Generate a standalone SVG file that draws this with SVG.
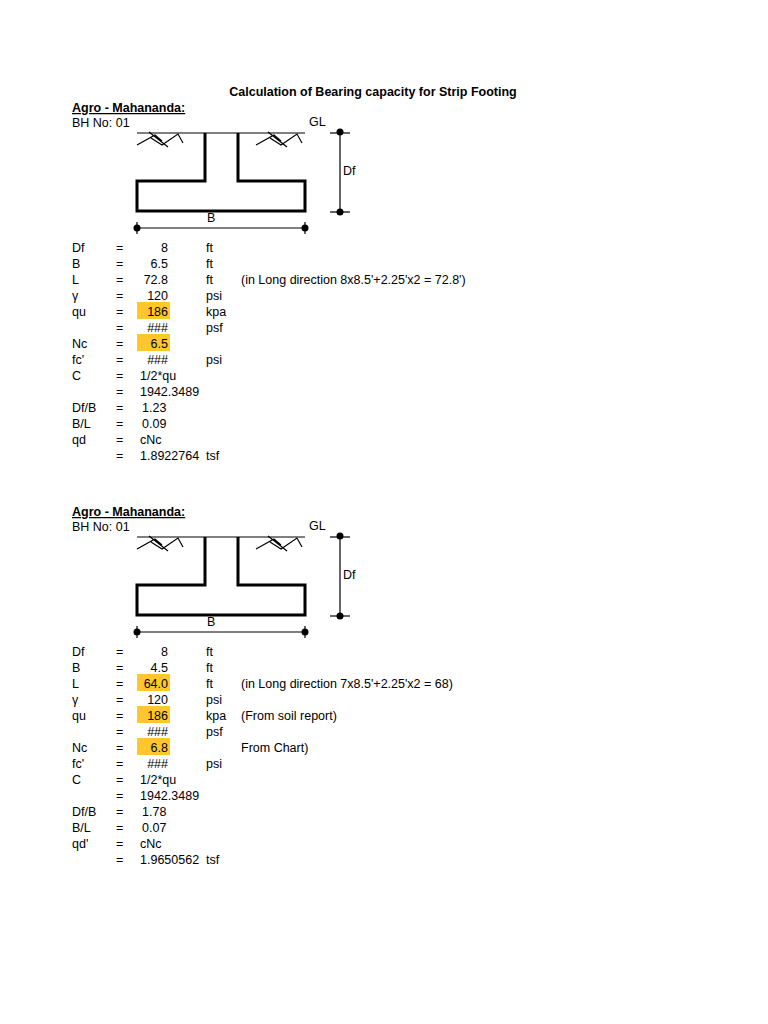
<svg xmlns="http://www.w3.org/2000/svg" width="768" height="1024" viewBox="0 0 768 1024">
<style>
text{font-family:"Liberation Sans",Arial,sans-serif;font-size:12.5px;fill:#000}
.b{font-weight:bold}
.r{text-anchor:end}
.thick{stroke:#000;stroke-width:3;fill:none}
.thin{stroke:#000;stroke-width:1.2;fill:none}
.hl{fill:#ffc72c}
</style>
<rect width="768" height="1024" fill="#fff"/>
<text x="373" y="96" class="b" text-anchor="middle">Calculation of Bearing capacity for Strip Footing</text>
<defs>
<g id="fig">
<line x1="137" y1="133" x2="305" y2="133" class="thin"/>
<path d="M137 145 L155 135 L162 141 M151 138 L162 145 L178 134 L183 143 M149 132 L168 147" class="thin"/>
<path d="M256 145 L274 135 L281 141 M270 138 L281 145 L297 134 L302 143 M268 132 L287 147" class="thin"/>
<path d="M205 133 V181 H137 V211 H305 V181 H238 V133" class="thick"/>
<line x1="340" y1="131" x2="340" y2="212" class="thin"/>
<line x1="330" y1="133" x2="350" y2="133" class="thin"/>
<line x1="330" y1="212" x2="350" y2="212" class="thin"/>
<circle cx="340" cy="132" r="3.5"/><circle cx="340" cy="212" r="3.5"/>
<line x1="137" y1="228" x2="305" y2="228" class="thin"/>
<line x1="137" y1="222" x2="137" y2="234" class="thin"/>
<line x1="305" y1="222" x2="305" y2="234" class="thin"/>
<circle cx="137" cy="228" r="3.5"/><circle cx="305" cy="228" r="3.5"/>
<text x="207" y="222">B</text>
<text x="309" y="126">GL</text>
<text x="343" y="175">Df</text>
<text x="72" y="112" class="b" text-decoration="underline">Agro - Mahananda:</text>
<text x="72" y="127">BH No: 01</text>
</g>
</defs>
<g id="section1">
<use href="#fig"/>
<rect class="hl" x="137" y="302" width="33" height="17"/>
<rect class="hl" x="137" y="334" width="33" height="17"/>
<g>
<text x="72" y="252">Df</text><text x="116" y="252">=</text><text x="168" y="252" class="r">8</text><text x="206" y="252">ft</text>
<text x="72" y="268">B</text><text x="116" y="268">=</text><text x="168" y="268" class="r">6.5</text><text x="206" y="268">ft</text>
<text x="72" y="284">L</text><text x="116" y="284">=</text><text x="168" y="284" class="r">72.8</text><text x="206" y="284">ft</text><text x="241" y="284">(in Long direction 8x8.5'+2.25'x2 = 72.8')</text>
<text x="72" y="300">γ</text><text x="116" y="300">=</text><text x="168" y="300" class="r">120</text><text x="206" y="300">psi</text>
<text x="72" y="316">qu</text><text x="116" y="316">=</text><text x="168" y="316" class="r">186</text><text x="206" y="316">kpa</text>
<text x="116" y="332">=</text><text x="168" y="332" class="r">###</text><text x="206" y="332">psf</text>
<text x="72" y="348">Nc</text><text x="116" y="348">=</text><text x="168" y="348" class="r">6.5</text>
<text x="72" y="364">fc'</text><text x="116" y="364">=</text><text x="168" y="364" class="r">###</text><text x="206" y="364">psi</text>
<text x="72" y="380">C</text><text x="116" y="380">=</text><text x="140" y="380">1/2*qu</text>
<text x="116" y="396">=</text><text x="140" y="396">1942.3489</text>
<text x="72" y="412">Df/B</text><text x="116" y="412">=</text><text x="142" y="412">1.23</text>
<text x="72" y="428">B/L</text><text x="116" y="428">=</text><text x="142" y="428">0.09</text>
<text x="72" y="444">qd</text><text x="116" y="444">=</text><text x="140" y="444">cNc</text>
<text x="116" y="460">=</text><text x="140" y="460">1.8922764</text><text x="206" y="460">tsf</text>
</g>
</g>
<g id="section2" transform="translate(0,404)">
<use href="#fig"/>
<rect class="hl" x="137" y="270" width="33" height="17"/>
<rect class="hl" x="137" y="302" width="33" height="17"/>
<rect class="hl" x="137" y="334" width="33" height="17"/>
<text x="72" y="252">Df</text><text x="116" y="252">=</text><text x="168" y="252" class="r">8</text><text x="206" y="252">ft</text>
<text x="72" y="268">B</text><text x="116" y="268">=</text><text x="168" y="268" class="r">4.5</text><text x="206" y="268">ft</text>
<text x="72" y="284">L</text><text x="116" y="284">=</text><text x="168" y="284" class="r">64.0</text><text x="206" y="284">ft</text><text x="241" y="284">(in Long direction 7x8.5'+2.25'x2 = 68)</text>
<text x="72" y="300">γ</text><text x="116" y="300">=</text><text x="168" y="300" class="r">120</text><text x="206" y="300">psi</text>
<text x="72" y="316">qu</text><text x="116" y="316">=</text><text x="168" y="316" class="r">186</text><text x="206" y="316">kpa</text><text x="241" y="316">(From soil report)</text>
<text x="116" y="332">=</text><text x="168" y="332" class="r">###</text><text x="206" y="332">psf</text>
<text x="72" y="348">Nc</text><text x="116" y="348">=</text><text x="168" y="348" class="r">6.8</text><text x="241" y="348">From Chart)</text>
<text x="72" y="364">fc'</text><text x="116" y="364">=</text><text x="168" y="364" class="r">###</text><text x="206" y="364">psi</text>
<text x="72" y="380">C</text><text x="116" y="380">=</text><text x="140" y="380">1/2*qu</text>
<text x="116" y="396">=</text><text x="140" y="396">1942.3489</text>
<text x="72" y="412">Df/B</text><text x="116" y="412">=</text><text x="142" y="412">1.78</text>
<text x="72" y="428">B/L</text><text x="116" y="428">=</text><text x="142" y="428">0.07</text>
<text x="72" y="444">qd'</text><text x="116" y="444">=</text><text x="140" y="444">cNc</text>
<text x="116" y="460">=</text><text x="140" y="460">1.9650562</text><text x="206" y="460">tsf</text>
</g>
</svg>
